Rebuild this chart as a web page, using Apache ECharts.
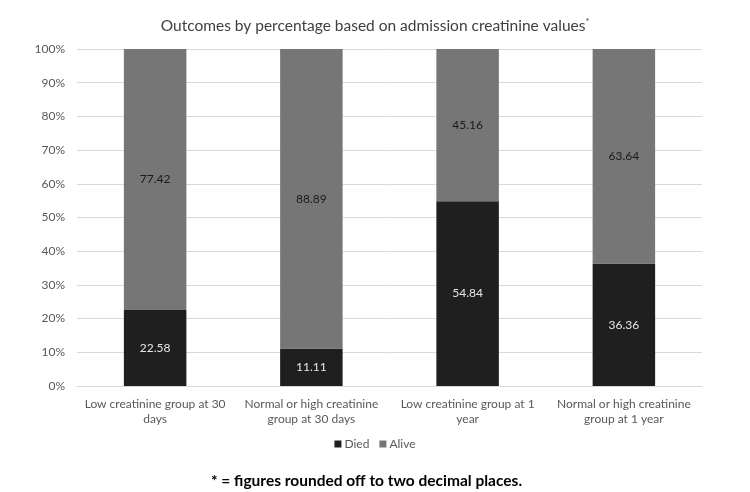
<!DOCTYPE html>
<html>
<head>
<meta charset="utf-8">
<script src="https://cdn.jsdelivr.net/npm/echarts@6/dist/echarts.min.js"></script>
<style>html,body{margin:0;padding:0;background:#fff;}#c{width:750px;height:492px;}</style>
</head>
<body>
<div id="c"></div>
<script>
const categories = [
  "Low creatinine group at 30\ndays",
  "Normal or high creatinine\ngroup at 30 days",
  "Low creatinine group at 1\nyear",
  "Normal or high creatinine\ngroup at 1 year"
];
const died = [22.58, 11.11, 54.84, 36.36];
const alive = [77.42, 88.89, 45.16, 63.64];
const seriesNames = ["Died", "Alive"];
const titleText = "Outcomes by percentage based on admission creatinine values";
const footnote = "* = figures rounded off to two decimal places.";

const FONT = "Lato";
const chart = echarts.init(document.getElementById('c'));
chart.setOption({
  animation: false,
  backgroundColor: '#fff',
  textStyle: { fontFamily: FONT },
  title: [
    {
      text: '{t|' + titleText + '}{s|*}',
      left: 'center', top: 13,
      textStyle: {
        fontWeight: 'normal',
        rich: {
          t: { fontFamily: FONT, fontSize: 15.5, fontWeight: 'normal', color: '#404040' },
          s: { fontFamily: FONT, fontSize: 9, fontWeight: 'normal', color: '#404040', verticalAlign: 'top', padding: [0, 0, 6, 0] }
        }
      }
    },
    {
      text: footnote,
      left: 206, top: 468,
      textStyle: { fontFamily: FONT, fontSize: 15.5, fontWeight: 'bold', color: '#000' }
    }
  ],
  legend: {
    data: seriesNames,
    bottom: 37,
    left: 'center',
    itemWidth: 7, itemHeight: 7, itemGap: 10,
    icon: 'rect',
    textStyle: { fontFamily: FONT, fontSize: 12, color: '#595959', padding: [0,0,0,-2] }
  },
  grid: { left: 77, right: 48, top: 49, bottom: 106 },
  xAxis: {
    type: 'category',
    data: categories,
    axisLine: { lineStyle: { color: '#d9d9d9' } },
    axisTick: { show: false },
    axisLabel: { fontFamily: FONT, fontSize: 12, color: '#595959', lineHeight: 15, margin: 11, interval: 0 }
  },
  yAxis: {
    type: 'value', min: 0, max: 100, interval: 10,
    axisLine: { show: false },
    axisTick: { show: false },
    splitLine: { lineStyle: { color: '#d9d9d9' } },
    axisLabel: { fontFamily: FONT, fontSize: 12, color: '#595959', margin: 12, formatter: '{value}%' }
  },
  series: [
    {
      name: seriesNames[0], type: 'bar', stack: 'a', data: died, barWidth: '40%',
      itemStyle: { color: '#1f1f1f' },
      label: { show: true, position: 'inside', fontFamily: FONT, fontSize: 12, color: '#e6e6e6', formatter: p => p.value.toFixed(2) }
    },
    {
      name: seriesNames[1], type: 'bar', stack: 'a', data: alive, barWidth: '40%',
      itemStyle: { color: '#767676' },
      label: { show: true, position: 'inside', fontFamily: FONT, fontSize: 12, color: '#1a1a1a', formatter: p => p.value.toFixed(2) }
    }
  ]
});
</script>
</body>
</html>
